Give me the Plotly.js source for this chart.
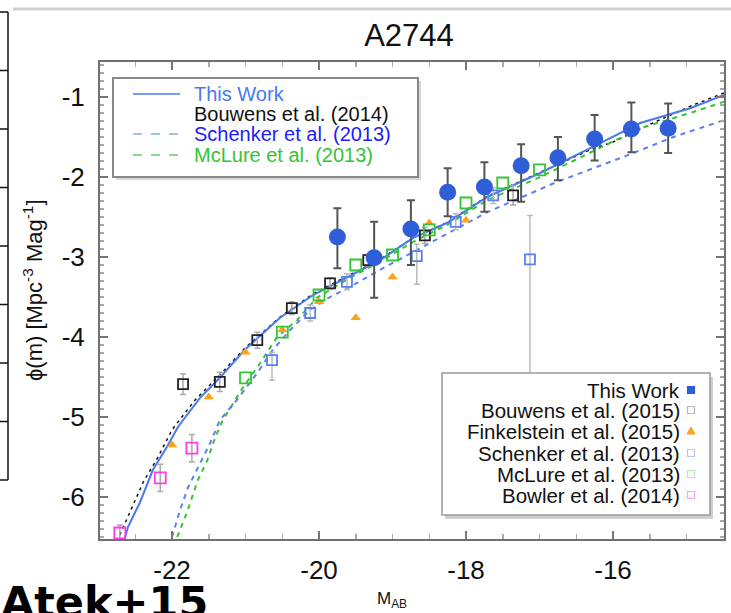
<!DOCTYPE html>
<html>
<head>
<meta charset="utf-8">
<script src="https://cdn.plot.ly/plotly-3.0.1.min.js"></script>
<style>html,body{margin:0;padding:0;background:#fff;}#chart{width:731px;height:613px;}</style>
</head>
<body>
<div id="chart"></div>
<script>
// ---------- data ----------
const thisWorkM = [-19.75,-19.25,-18.75,-18.25,-17.75,-17.25,-16.75,-16.25,-15.75,-15.25];
const thisWorkPhi = [-2.75,-3.01,-2.65,-2.19,-2.125,-1.86,-1.76,-1.525,-1.40,-1.39];
const thisWorkErrUp = [0.36,0.45,0.36,0.30,0.31,0.27,0.26,0.30,0.33,0.31];
const thisWorkErrDn = [0.39,0.50,0.45,0.30,0.31,0.45,0.28,0.27,0.29,0.31];

const bouwens15M = [-21.85,-21.35,-20.84,-20.37,-19.85,-19.33,-18.56,-17.36];
const bouwens15Phi = [-4.59,-4.56,-4.04,-3.64,-3.33,-3.04,-2.73,-2.23];
const bouwens15Err = [0.13,0.12,0.10,0.08,0.07,0.07,0.10,0.12];

const finkM = [-22.0,-21.5,-21.0,-20.5,-20.0,-19.5,-19.0,-18.5,-18.0];
const finkPhi = [-5.35,-4.75,-4.19,-3.91,-3.56,-3.76,-3.25,-2.575,-2.54];

const schenkerM = [-20.64,-20.12,-19.62,-18.67,-18.14,-17.63,-17.13];
const schenkerPhi = [-4.29,-3.70,-3.31,-2.99,-2.56,-2.23,-3.03];
const schenkerErrUp = [0.10,0.10,0.10,0.15,0.10,0.10,0.55];
const schenkerErrDn = [0.25,0.10,0.10,0.35,0.10,0.10,1.76];

const mclureM = [-21.0,-20.5,-20.0,-19.5,-19.0,-18.5,-18.0,-17.5,-17.0];
const mclurePhi = [-4.51,-3.94,-3.475,-3.10,-2.975,-2.66,-2.325,-2.075,-1.91];

const bowlerM = [-22.71,-22.16,-21.73];
const bowlerPhi = [-6.45,-5.76,-5.39];
const bowlerErr = [0.10,0.17,0.17];

// fitted curves
const fitThisWorkM = [-22.65,-22.60,-22.44,-22.26,-22.07,-21.92,-21.62,-21.35,-21.01,-20.53,-20.08,-19.62,-19.17,-18.72,-18.26,-17.71,-16.99,-16.31,-15.63,-14.95,-14.49];
const fitThisWorkPhi = [-6.54,-6.375,-6.075,-5.66,-5.375,-5.125,-4.76,-4.51,-4.16,-3.76,-3.475,-3.25,-3.04,-2.76,-2.575,-2.25,-1.95,-1.64,-1.325,-1.14,-0.975];

const fitBouwens14M = [-22.71,-22.54,-22.39,-22.19,-22.0,-21.69,-21.35,-21.01,-20.53,-20.08,-19.62,-19.17,-18.72,-18.26,-17.71,-16.99,-16.31,-16.0,-15.46,-14.91,-14.49];
const fitBouwens14Phi = [-6.475,-6.125,-5.81,-5.50,-5.16,-4.79,-4.475,-4.14,-3.75,-3.46,-3.24,-3.03,-2.76,-2.57,-2.24,-1.94,-1.66,-1.5625,-1.325,-1.10,-0.95];

const fitSchenkerM = [-22.0,-21.89,-21.78,-21.62,-21.48,-21.35,-21.12,-20.84,-20.63,-20.39,-20.12,-19.85,-19.58,-19.17,-18.35,-17.71,-16.76,-15.86,-15.18,-14.49];
const fitSchenkerPhi = [-6.50,-6.16,-5.875,-5.575,-5.325,-5.04,-4.79,-4.45,-4.16,-3.91,-3.66,-3.50,-3.375,-3.16,-2.76,-2.44,-2.06,-1.75,-1.50,-1.29];

const fitMclureM = [-21.93,-21.80,-21.65,-21.52,-21.41,-21.31,-21.03,-20.80,-20.57,-20.30,-20.03,-19.58,-19.17,-18.72,-18.26,-17.71,-16.99,-16.31,-15.63,-14.95,-14.49];
const fitMclurePhi = [-6.50,-6.20,-5.79,-5.54,-5.25,-5.04,-4.625,-4.325,-4.0,-3.79,-3.51,-3.26,-3.06,-2.81,-2.60,-2.29,-2.0,-1.69,-1.39,-1.20,-1.06];

const xTickVals = [-22,-20,-18,-16];
const yTickVals = [-6,-5,-4,-3,-2,-1];

const topLegendNames = ['This Work','Bouwens et al. (2014)','Schenker et al. (2013)','McLure et al. (2013)'];
const bottomLegendNames = ['This Work','Bouwens et al. (2015)','Finkelstein et al. (2015)','Schenker et al. (2013)','McLure et al. (2013)','Bowler et al. (2014)'];

// ---------- layout helpers ----------
const L = 100, T = 62, W = 624, H = 477;
const px = x => (x - L) / W;
const py = y => (T + H - y) / H;
const FONT = 'Liberation Sans, Arial, Helvetica, sans-serif';

const cBlue = '#2f5fd8', cBlueLine = '#4a78f0', cSchenker = '#5a80f0', cGreen = '#33c433',
      cOrange = '#ffa21a', cMagenta = '#ff3cf0';

const traces = [
  {x: fitBouwens14M, y: fitBouwens14Phi, mode:'lines', line:{color:'#111', width:1.5, dash:'3px,4px'}, showlegend:false},
  {x: fitMclureM, y: fitMclurePhi, mode:'lines', line:{color:cGreen, width:2, dash:'5px,5px'}, showlegend:false},
  {x: fitSchenkerM, y: fitSchenkerPhi, mode:'lines', line:{color:cSchenker, width:2, dash:'5px,5px'}, showlegend:false},
  {x: fitThisWorkM, y: fitThisWorkPhi, mode:'lines', line:{color:cBlueLine, width:2}, showlegend:false},
  {x: bouwens15M, y: bouwens15Phi, mode:'markers', marker:{symbol:'square-open', size:10, color:'#222', line:{width:1.8}},
   error_y:{type:'data', array:bouwens15Err, color:'#aaa', thickness:1.5, width:3}, showlegend:false},
  {x: finkM, y: finkPhi, mode:'markers', marker:{symbol:'triangle-up', size:9, color:cOrange}, showlegend:false},
  {x: schenkerM, y: schenkerPhi, mode:'markers', marker:{symbol:'square-open', size:10, color:cSchenker, line:{width:1.8}},
   error_y:{type:'data', symmetric:false, array:schenkerErrUp, arrayminus:schenkerErrDn, color:'#bbb', thickness:1.5, width:3}, showlegend:false},
  {x: mclureM, y: mclurePhi, mode:'markers', marker:{symbol:'square-open', size:11, color:cGreen, line:{width:1.8}}, showlegend:false},
  {x: bowlerM, y: bowlerPhi, mode:'markers', marker:{symbol:'square-open', size:11, color:cMagenta, line:{width:1.8}},
   error_y:{type:'data', array:bowlerErr, color:'#aaa', thickness:1.5, width:3}, showlegend:false},
  {x: thisWorkM, y: thisWorkPhi, mode:'markers', marker:{symbol:'circle', size:17, color:cBlue},
   error_y:{type:'data', symmetric:false, array:thisWorkErrUp, arrayminus:thisWorkErrDn, color:'#555', thickness:2, width:4}, showlegend:false}
];

// ---------- decorations: legends, fragments ----------
const shapes = [];
const annotations = [];

// top gray strip and left fragment of a neighbouring figure
shapes.push({type:'line', xref:'paper', yref:'paper', x0:px(13), x1:px(731), y0:py(9), y1:py(9), line:{color:'#cfcfcf', width:3}, layer:'above'});
shapes.push({type:'line', xref:'paper', yref:'paper', x0:px(8), x1:px(8), y0:py(12), y1:py(480), line:{color:'#111', width:1.5}, layer:'above'});
for (let k = 0; k <= 8; k++) {
  const yy = 12 + 58.5 * k;
  shapes.push({type:'line', xref:'paper', yref:'paper', x0:px(0), x1:px(8), y0:py(yy), y1:py(yy), line:{color:'#111', width:1.5}, layer:'above'});
}

// top-left legend box
shapes.push({type:'rect', xref:'paper', yref:'paper', x0:px(116), x1:px(421), y0:py(81), y1:py(180), fillcolor:'#d8d8d8', line:{width:0}, layer:'above'});
shapes.push({type:'rect', xref:'paper', yref:'paper', x0:px(113), x1:px(418), y0:py(78), y1:py(177), fillcolor:'#fff', line:{color:'#888', width:2}, layer:'above'});
const topRows = [94, 114, 134, 155];
const topColors = [cBlueLine, '#111', '#1c1cff', cGreen];
const topLine = [{color:cBlueLine, dash:'solid'}, null, {color:'#8fa6f5', dash:'dash'}, {color:'#66cc66', dash:'dash'}];
topLegendNames.forEach((n, i) => {
  if (topLine[i]) shapes.push({type:'line', xref:'paper', yref:'paper', x0:px(133), x1:px(180), y0:py(topRows[i]), y1:py(topRows[i]),
    line:{color:topLine[i].color, width:1.5, dash:topLine[i].dash}, layer:'above'});
  annotations.push({xref:'paper', yref:'paper', x:px(193), y:py(topRows[i]), xanchor:'left', yanchor:'middle', showarrow:false,
    text:n, font:{family:FONT, size:20, color:topColors[i]}, borderpad:0});
});

// bottom-right legend box
shapes.push({type:'rect', xref:'paper', yref:'paper', x0:px(445), x1:px(713), y0:py(377), y1:py(519), fillcolor:'#cfcfcf', line:{width:0}, layer:'above'});
shapes.push({type:'rect', xref:'paper', yref:'paper', x0:px(442), x1:px(710), y0:py(373), y1:py(515), fillcolor:'#fff', line:{color:'#999', width:1.5}, layer:'above'});
const botRows = [390, 410, 431, 453, 474, 495];
bottomLegendNames.forEach((n, i) => {
  annotations.push({xref:'paper', yref:'paper', x:px(681), y:py(botRows[i]), xanchor:'right', yanchor:'middle', showarrow:false,
    text:n, font:{family:FONT, size:20.5, color:'#111'}, borderpad:0});
});
const mk = 691, hs = 3.5;
const boxKey = (i, fill, col) => shapes.push({type:'rect', xref:'paper', yref:'paper', x0:px(mk-hs), x1:px(mk+hs), y0:py(botRows[i]-hs), y1:py(botRows[i]+hs),
  fillcolor:fill, line:{color:col, width:1.2}, layer:'above'});
boxKey(0, cBlue, cBlue);
boxKey(1, 'rgba(0,0,0,0)', '#bbb');
shapes.push({type:'path', xref:'paper', yref:'paper', layer:'above', fillcolor:cOrange, line:{color:cOrange, width:1},
  path:`M ${px(mk-4)} ${py(botRows[2]+3)} L ${px(mk+4)} ${py(botRows[2]+3)} L ${px(mk)} ${py(botRows[2]-4)} Z`});
boxKey(3, 'rgba(0,0,0,0)', '#b8c6f8');
boxKey(4, 'rgba(0,0,0,0)', '#b8e8b8');
boxKey(5, 'rgba(0,0,0,0)', '#f6a0f0');

// axis titles and label
annotations.push({xref:'paper', yref:'paper', x:px(33), y:py(290), showarrow:false, textangle:-90, xanchor:'center', yanchor:'middle',
  text:'ϕ(m) [Mpc<sup>-3</sup> Mag<sup>-1</sup>]', font:{family:FONT, size:22, color:'#111'}});
annotations.push({xref:'paper', yref:'paper', x:px(392), y:py(600), showarrow:false, xanchor:'center', yanchor:'middle',
  text:'M<sub>AB</sub>', font:{family:FONT, size:17, color:'#111'}});
annotations.push({xref:'paper', yref:'paper', x:px(0), y:py(576), showarrow:false, xanchor:'left', yanchor:'top', borderpad:0,
  text:'<b>Atek+15</b>', font:{family:'DejaVu Sans, sans-serif', size:43, color:'#000'}});

const layout = {
  width: 731, height: 613,
  margin: {l:L, r:731 - L - W, t:T, b:613 - T - H, pad:0},
  paper_bgcolor:'#fff', plot_bgcolor:'#fff',
  showlegend:false,
  title: {text:'A2744', font:{family:FONT, size:31, color:'#111'}, xref:'container', yref:'container', x:409/731, y:1 - 35/613, xanchor:'center', yanchor:'middle'},
  xaxis: {range:[-22.98, -14.49], tickvals:xTickVals, ticktext:xTickVals.map(String), ticks:'inside', ticklen:8, tickwidth:1.5, tickcolor:'#777',
    showline:true, linecolor:'#707070', linewidth:2, mirror:'ticks', showgrid:false, zeroline:false, ticklabelstandoff:7,
    tickfont:{family:FONT, size:26, color:'#111'},
    minor:{dtick:0.5, tick0:-22, ticks:'inside', ticklen:5, tickcolor:'#aaa', showgrid:false}},
  yaxis: {range:[-6.525, -0.5625], tickvals:yTickVals, ticktext:yTickVals.map(String), ticks:'inside', ticklen:8, tickwidth:1.5, tickcolor:'#777',
    showline:true, linecolor:'#707070', linewidth:2, mirror:'ticks', showgrid:false, zeroline:false, ticklabelstandoff:8,
    tickfont:{family:FONT, size:26, color:'#111'},
    minor:{dtick:0.1, tick0:-1, ticks:'inside', ticklen:4, tickcolor:'#aaa', showgrid:false}},
  shapes: shapes,
  annotations: annotations
};

Plotly.newPlot('chart', traces, layout, {displayModeBar:false, staticPlot:true});
</script>
</body>
</html>
